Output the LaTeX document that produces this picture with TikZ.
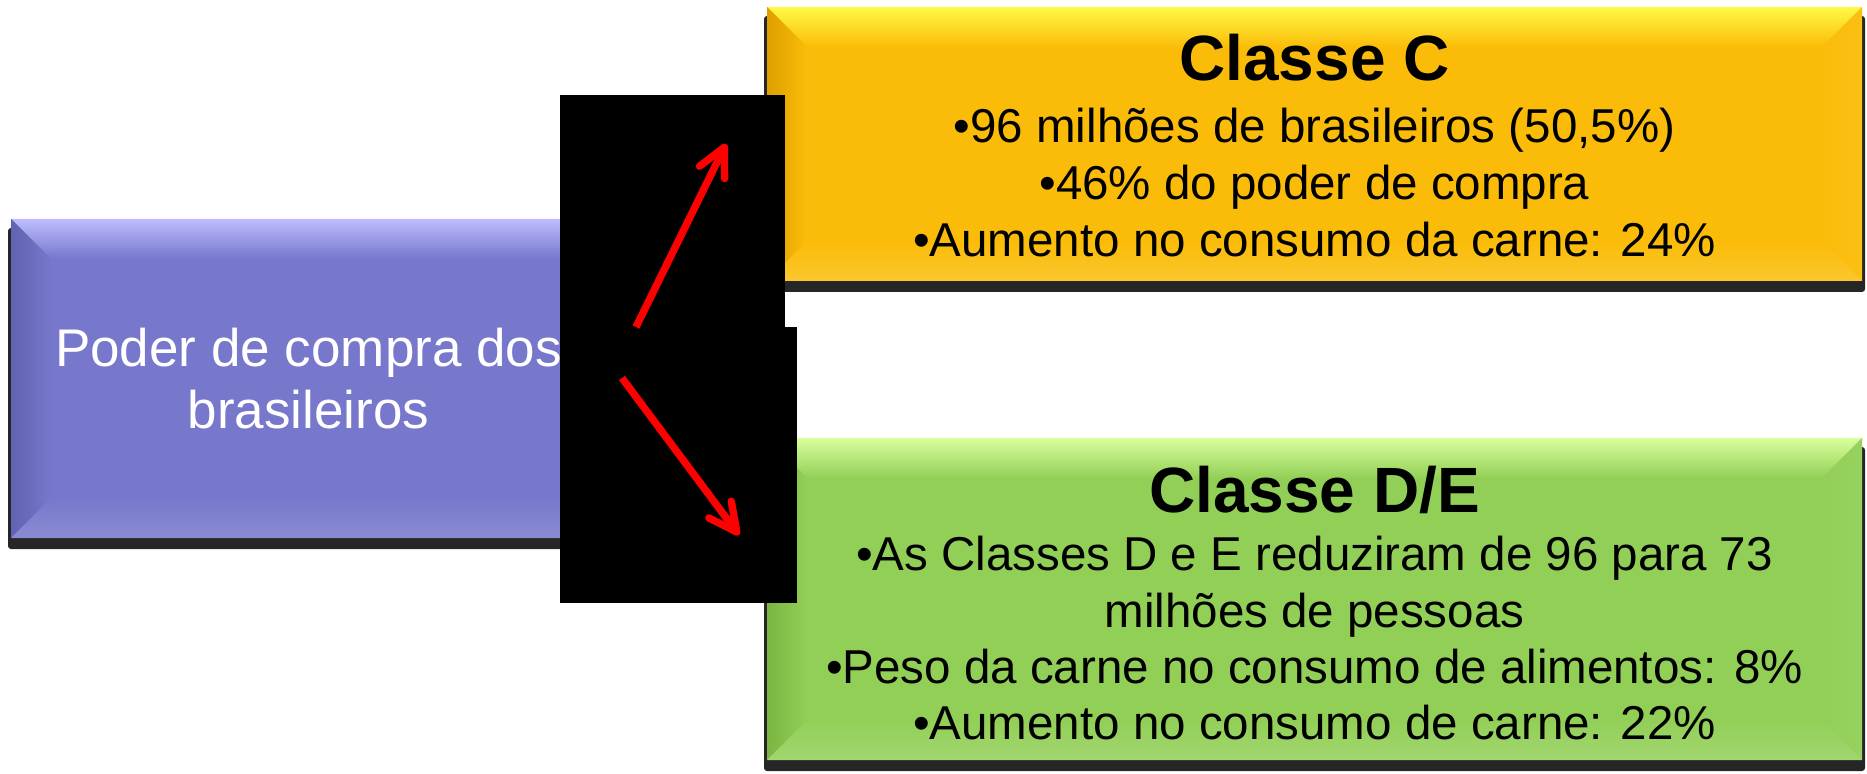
\documentclass[tikz,border=0pt]{standalone}
\usepackage{fontspec}
\setmainfont{Liberation Sans}
\usetikzlibrary{arrows.meta}

\definecolor{podbase}{HTML}{7777CC}
\definecolor{podlight}{HTML}{BDBDFF}
\definecolor{poddark}{HTML}{6262B2}
\definecolor{clcbase}{HTML}{FBBC09}
\definecolor{clclight}{HTML}{FFFA45}
\definecolor{clcdark}{HTML}{DDA000}
\definecolor{cdebase}{HTML}{92CF57}
\definecolor{cdelight}{HTML}{DAFF9C}
\definecolor{cdedark}{HTML}{7BB542}

% bevel of a box node: #1 node, #2 base, #3 light, #4 dark
\newcommand{\bevel}[4]{%
  \fill[black!85, rounded corners=1.5pt] ([shift={(-3,9)}]#1.north west) rectangle ([shift={(3,11)}]#1.south east);
  \fill[#2] (#1.north west) rectangle (#1.south east);
  \shade[top color=#3, bottom color=#2] (#1.north west) -- (#1.north east)
    -- ([shift={(-40,40)}]#1.north east) -- ([shift={(40,40)}]#1.north west) -- cycle;
  \shade[left color=#4, right color=#2] (#1.north west) -- ([shift={(40,40)}]#1.north west)
    -- ([shift={(40,-40)}]#1.south west) -- (#1.south west) -- cycle;
  \shade[left color=#2, right color=#2!95!white] (#1.north east) -- (#1.south east)
    -- ([shift={(-40,-40)}]#1.south east) -- ([shift={(-40,40)}]#1.north east) -- cycle;
  \shade[top color=#2, middle color=#2, bottom color=#2!85!white] (#1.south west) -- ([shift={(40,-40)}]#1.south west)
    -- ([shift={(-40,-40)}]#1.south east) -- (#1.south east) -- cycle;
}

\tikzset{
  box/.style={inner sep=0, outer sep=0},
  podtext/.style={font=\fontsize{26.5}{31}\selectfont, text=white, anchor=base, inner sep=0},
  boxtitle/.style={font=\fontsize{32}{38}\selectfont\bfseries, anchor=base, inner sep=0},
  boxline/.style={font=\fontsize{23.75}{28}\selectfont, anchor=base, inner sep=0},
  redarrow/.style={draw=red, line width=3.7pt, -{Straight Barb[length=14pt,width=14pt,round]}},
}

\begin{document}
\begin{tikzpicture}[x=0.5pt, y=-0.5pt]
  \useasboundingbox (0,0) rectangle (1867,774);

  % the three boxes
  \node[box, minimum width=297.5pt, minimum height=159.5pt] (pod) at (308.5,378.5) {};
  \node[box, minimum width=547.5pt, minimum height=137pt] (clc) at (1314.5,144) {};
  \node[box, minimum width=547.5pt, minimum height=161pt] (cde) at (1314.5,599) {};
  \bevel{pod}{podbase}{podlight}{poddark}
  \bevel{clc}{clcbase}{clclight}{clcdark}
  \bevel{cde}{cdebase}{cdelight}{cdedark}

  % texts
  \node[podtext] (pod1) at (308.5,367) {Poder de compra dos};
  \node[podtext] (pod2) at (308.5,429) {brasileiros};

  \node[boxtitle] (clct) at (1314.5,81) {Classe C};
  \node[boxline] (clc1) at (1314.5,143) {•96 milhões de brasileiros (50,5\%)};
  \node[boxline] (clc2) at (1314.5,200) {•46\% do poder de compra};
  \node[boxline] (clc3) at (1314.5,257) {•Aumento no consumo da carne: 24\%};

  \node[boxtitle] (cdet) at (1314.5,512) {Classe D/E};
  \node[boxline] (cde1) at (1314.5,570) {•As Classes D e E reduziram de 96 para 73};
  \node[boxline] (cde2) at (1314.5,627) {milhões de pessoas};
  \node[boxline] (cde3) at (1314.5,683) {•Peso da carne no consumo de alimentos: 8\%};
  \node[boxline] (cde4) at (1314.5,739) {•Aumento no consumo de carne: 22\%};

  % black patches
  \fill[black] (560,95) rectangle (785,327);
  \fill[black] (560,327) rectangle (797,603);

  % arrows
  \coordinate (up0) at (636,327);
  \coordinate (up1) at (726,144);
  \coordinate (dn0) at (622,378);
  \coordinate (dn1) at (739,535);
  \draw[redarrow] (up0) -- (up1);
  \draw[redarrow] (dn0) -- (dn1);
\end{tikzpicture}
\end{document}
